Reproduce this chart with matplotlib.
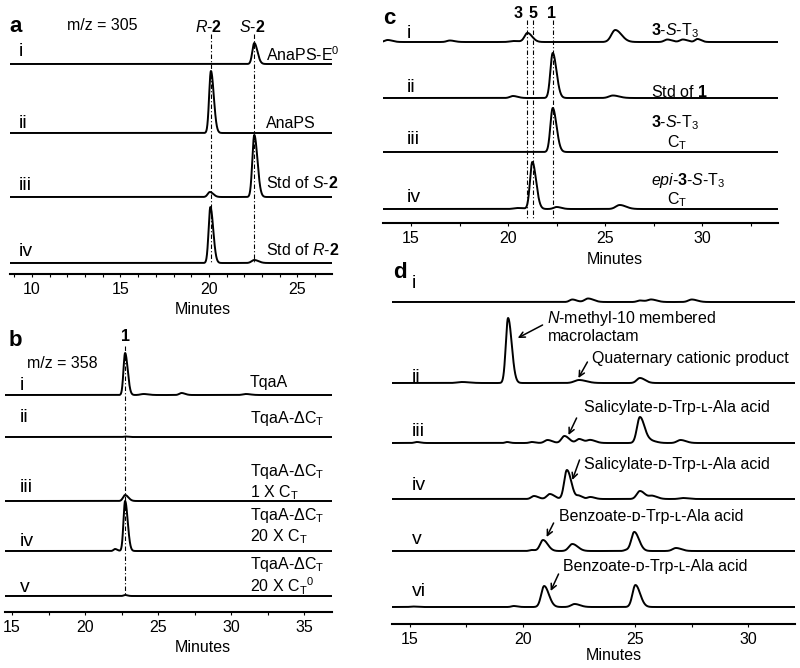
import numpy as np
import matplotlib
matplotlib.use("Agg")
import matplotlib.pyplot as plt
from matplotlib.ticker import MultipleLocator

plt.rcParams['font.family'] = ['Liberation Sans', 'DejaVu Sans']
plt.rcParams['mathtext.fontset'] = 'custom'
plt.rcParams['mathtext.rm'] = 'Liberation Sans'
plt.rcParams['mathtext.it'] = 'Liberation Sans:italic'
plt.rcParams['mathtext.bf'] = 'Liberation Sans:bold'

# ---- data: peaks as (retention time in minutes, height, width) ----
# panel a, m/z = 305
a_rows = ['i', 'ii', 'iii', 'iv']
a_names = [r'AnaPS-E$^0$', 'AnaPS', r'Std of $\mathit{S}$-$\mathbf{2}$',
           r'Std of $\mathit{R}$-$\mathbf{2}$']
a_peaks = [
    [(22.56, 21, 0.11)],
    [(20.11, 62, 0.10)],
    [(20.05, 5, 0.12), (22.56, 62, 0.11)],
    [(20.08, 56, 0.10), (22.56, 3, 0.15)],
]
a_marks = [20.11, 22.56]
a_mark_names = [r'$\mathit{R}$-$\mathbf{2}$', r'$\mathit{S}$-$\mathbf{2}$']

# panel b, m/z = 358
b_rows = ['i', 'ii', 'iii', 'iv', 'v']
b_names = ['TqaA', r'TqaA-ΔC$_\mathregular{T}$',
           'TqaA-ΔC$_\\mathregular{T}$\n1 X C$_\\mathregular{T}$',
           'TqaA-ΔC$_\\mathregular{T}$\n20 X C$_\\mathregular{T}$',
           'TqaA-ΔC$_\\mathregular{T}$\n20 X C$_\\mathregular{T}$$^\\mathregular{0}$']
b_peaks = [
    [(22.74, 42, 0.11), (24.0, 1, 0.2), (26.6, 2, 0.15), (31.0, 1, 0.2)],
    [(22.74, 0.5, 0.1)],
    [(22.74, 6, 0.14)],
    [(22.05, 2, 0.1), (22.74, 50, 0.11)],
    [(22.74, 1, 0.1)],
]
b_marks = [22.74]

# panel c
c_rows = ['i', 'ii', 'iii', 'iv']
c_names = [r'$\mathbf{3}$-$\mathit{S}$-T$_3$', r'Std of $\mathbf{1}$',
           r'$\mathbf{3}$-$\mathit{S}$-T$_3$', r'$\mathit{epi}$-$\mathbf{3}$-$\mathit{S}$-T$_3$']
c_sub = [None, None, r'C$_\mathregular{T}$', r'C$_\mathregular{T}$']
c_peaks = [
    [(13.8, 2, 0.15), (17.0, 1.5, 0.15), (20.3, 1, 0.2), (21.0, 9, 0.15),
     (25.52, 12, 0.2), (28.2, 2.5, 0.15), (29.0, 2.5, 0.15), (29.75, 3, 0.12)],
    [(20.25, 2, 0.15), (22.3, 45, 0.12), (25.4, 2.5, 0.2)],
    [(22.3, 44, 0.12)],
    [(20.5, 1, 0.2), (21.25, 47, 0.12), (22.5, 2, 0.15), (25.75, 4, 0.2)],
]
c_marks = [21.0, 21.3, 22.3]
c_mark_names = ['3', '5', '1']

# panel d
d_rows = ['i', 'ii', 'iii', 'iv', 'v', 'vi']
d_peaks = [
    [(22.2, 2.5, 0.12), (22.9, 3.5, 0.15), (25.2, 1.5, 0.12), (25.7, 2.5, 0.15), (27.5, 2.5, 0.15)],
    [(17.3, 1, 0.2), (19.35, 65, 0.10), (22.5, 3, 0.2), (25.2, 5, 0.14)],
    [(15.3, 1, 0.1), (19.3, 1, 0.08), (20.4, 1, 0.1), (21.1, 3, 0.13), (21.85, 7, 0.13),
     (22.5, 4, 0.12), (23.0, 3, 0.14), (25.2, 26, 0.13), (25.7, 2, 0.15), (27.0, 3, 0.15)],
    [(20.5, 3, 0.12), (21.2, 5, 0.13), (21.96, 29, 0.12), (22.5, 3, 0.1), (23.0, 2, 0.12),
     (25.2, 8, 0.14), (25.75, 3, 0.14), (27.1, 1, 0.15)],
    [(20.4, 1, 0.1), (20.9, 11, 0.13), (22.2, 7, 0.15), (24.6, 1, 0.1), (24.95, 19, 0.13),
     (26.8, 3, 0.15)],
    [(15.1, 0.5, 0.1), (19.6, 1, 0.1), (20.95, 21, 0.13), (22.3, 3, 0.15), (25.0, 22, 0.13)],
]
sal = 'Salicylate-ᴅ-Trp-ʟ-Ala acid'
benz = 'Benzoate-ᴅ-Trp-ʟ-Ala acid'
# (row, text, text pos, arrow tail, arrow head) in (minutes, height above row baseline)
d_notes = [
    (1, r'$\mathit{N}$-methyl-10 membered', (21.06, 65), None, None),
    (1, 'macrolactam', (21.1, 47), (20.88, 58), (19.78, 45)),
    (1, 'Quaternary cationic product', (23.09, 25), (22.87, 21), (22.47, 5)),
    (2, sal, (22.7, 36), (22.39, 25), (22.03, 8)),
    (3, sal, (22.7, 35), (22.52, 39), (22.2, 19)),
    (4, benz, (21.59, 34), (21.37, 28), (21.06, 14)),
    (5, benz, (21.77, 40), (21.59, 33), (21.24, 16)),
]

# ---- layout (pixels) ----
W, H = 800, 668
FS = 11.5
A_BOX, A_XLIM, A_BASE = (10, 20, 332, 274), (8.76, 26.95), [64, 133, 197, 263]
B_BOX, B_XLIM, B_BASE = (5, 330, 332, 612), (14.52, 36.9), [395, 437, 501, 551, 596]
C_BOX, C_XLIM, C_BASE = (383, 5, 778, 223), (13.56, 33.9), [42, 98, 152, 209]
D_BOX, D_XLIM, D_BASE = (392, 280, 795, 624), (14.2, 32.08), [302, 383, 443, 499, 551, 607]

fig = plt.figure(figsize=(W / 100, H / 100), dpi=100)


def trace(x, peaks):
    y = np.zeros_like(x)
    for c, h, w in peaks:
        s = np.where(x < c, w, w * 1.6)  # a bit of tailing
        y += h * np.exp(-0.5 * ((x - c) / s) ** 2)
    return y


def label(x, y, s, ha='left', va='center', size=FS, **kw):
    fig.text(x / W, 1 - y / H, s, ha=ha, va=va, fontsize=size, **kw)


def panel(box, xlim, bases, peaks, minor):
    left, top, right, bottom = box
    ax = fig.add_axes([left / W, 1 - bottom / H, (right - left) / W, (bottom - top) / H])
    ax.set_xlim(xlim)
    ax.set_ylim(0, bottom - top)
    for s in ['top', 'left', 'right']:
        ax.spines[s].set_visible(False)
    ax.spines['bottom'].set_linewidth(1.5)
    ax.set_yticks([])
    ax.xaxis.set_major_locator(MultipleLocator(5))
    ax.xaxis.set_minor_locator(MultipleLocator(minor))
    ax.tick_params(axis='x', which='both', direction='out', length=2.5, width=0.8,
                   labelsize=FS, pad=3.5)
    x = np.linspace(xlim[0], xlim[1], 4000)
    for b, pk in zip(bases, peaks):
        ax.plot(x, (bottom - b) + trace(x, pk), color='k', lw=1.4)
    return ax


def marks(ax, box, times, y0, y1):
    for t in times:
        ax.plot([t, t], [box[3] - y0, box[3] - y1], color='k', lw=0.8,
                ls=(0, (4, 2, 1, 2)))


def to_px(t, box, xlim):
    return box[0] + (t - xlim[0]) / (xlim[1] - xlim[0]) * (box[2] - box[0])


# panel a
ax_a = panel(A_BOX, A_XLIM, A_BASE, a_peaks, 1)
marks(ax_a, A_BOX, a_marks, 34, 263)
label(9, 26, 'a', size=16, weight='bold')
label(67, 26, 'm/z = 305')
for t, s in zip(a_marks, a_mark_names):
    label(to_px(t, A_BOX, A_XLIM) - 2, 27, s, ha='center')
for r, y in zip(a_rows, [52, 123, 186, 252]):
    label(19, y, r, size=14)
for s, y in zip(a_names, [55, 123, 183, 250]):
    label(266, y, s)
label(175, 310, 'Minutes')

# panel b
ax_b = panel(B_BOX, B_XLIM, B_BASE, b_peaks, 2.5)
marks(ax_b, B_BOX, b_marks, 346, 596)
label(9, 341, 'b', size=16, weight='bold')
label(126, 337, '1', ha='center', weight='bold')
label(27, 363, 'm/z = 358')
for r, y in zip(b_rows, [385, 418, 487, 542, 587]):
    label(20, y, r, size=14)
for s, y in zip(b_names, [382, 418, 482, 526, 576]):
    label(250, y, s, linespacing=1.1)
label(175, 647, 'Minutes')

# panel c
ax_c = panel(C_BOX, C_XLIM, C_BASE, c_peaks, 2.5)
marks(ax_c, C_BOX, c_marks, 20, 219)
label(383, 19, 'c', size=16, weight='bold')
for x, s in zip([518, 533, 552], c_mark_names):
    label(x, 13, s, ha='center', weight='bold')
for r, y in zip(c_rows, [33, 87, 140, 197]):
    label(407, y, r, size=14)
for s, sub, y in zip(c_names, c_sub, [31, 92, 123, 180]):
    label(651, y, s)
    if sub:
        label(667, y + 20, sub)
label(587, 259, 'Minutes')

# panel d
ax_d = panel(D_BOX, D_XLIM, D_BASE, d_peaks, 2.5)
label(393, 272, 'd', size=16, weight='bold')
for r, y in zip(d_rows, [284, 377, 432, 486, 540, 592]):
    label(412, y, r, size=14)
for row, s, tpos, tail, head in d_notes:
    base = D_BOX[3] - D_BASE[row]
    ax_d.text(tpos[0], base + tpos[1], s, ha='left', va='center', fontsize=FS)
    if tail is not None:
        ax_d.annotate('', xy=(head[0], base + head[1]), xytext=(tail[0], base + tail[1]),
                      arrowprops=dict(arrowstyle='->', lw=1.1, color='k',
                                      shrinkA=0, shrinkB=0, mutation_scale=10))
label(586, 656, 'Minutes')

fig.savefig('out.png', dpi=100)
